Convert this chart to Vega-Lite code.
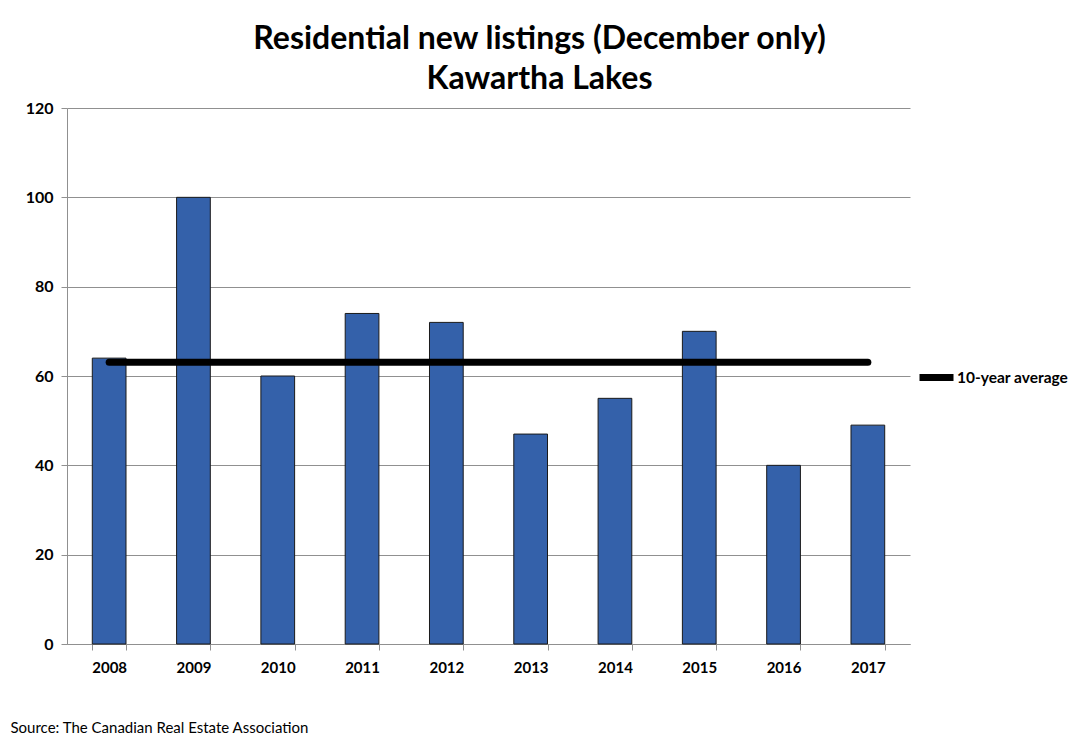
{
  "$schema": "https://vega.github.io/schema/vega-lite/v6.json",
  "width": 843,
  "height": 536,
  "autosize": {"type": "none"},
  "padding": {"left": 67, "top": 108, "right": 169, "bottom": 95},
  "background": "white",
  "config": {
    "font": "Lato",
    "view": {"stroke": null}
  },
  "title": {
    "text": ["Residential new listings (December only)", "Kawartha Lakes"],
    "fontSize": 32,
    "fontWeight": "bold",
    "font": "Lato",
    "color": "black",
    "anchor": "middle",
    "dx": 51,
    "lineHeight": 40,
    "offset": 4
  },
  "data": {
    "values": [
      {"year": "2008", "listings": 64, "avg": 63.1},
      {"year": "2009", "listings": 100, "avg": 63.1},
      {"year": "2010", "listings": 60, "avg": 63.1},
      {"year": "2011", "listings": 74, "avg": 63.1},
      {"year": "2012", "listings": 72, "avg": 63.1},
      {"year": "2013", "listings": 47, "avg": 63.1},
      {"year": "2014", "listings": 55, "avg": 63.1},
      {"year": "2015", "listings": 70, "avg": 63.1},
      {"year": "2016", "listings": 40, "avg": 63.1},
      {"year": "2017", "listings": 49, "avg": 63.1}
    ]
  },
  "encoding": {
    "x": {
      "field": "year",
      "type": "nominal",
      "sort": null,
      "scale": {"paddingInner": 0.6, "paddingOuter": 0.3},
      "axis": {
        "labelAngle": 0,
        "labelFontSize": 15,
        "labelFontWeight": "bold",
        "labelColor": "black",
        "labelPadding": 10,
        "tickBand": "extent",
        "tickColor": "#909090",
        "tickSize": 6,
        "domainColor": "#909090",
        "grid": false,
        "title": "Source: The Canadian Real Estate Association",
        "titleFontSize": 15,
        "titleFontWeight": "normal",
        "titleColor": "black",
        "titleAnchor": "start",
        "titleAlign": "left",
        "titleBaseline": "middle",
        "titleX": -57,
        "titleY": 83
      }
    }
  },
  "layer": [
    {
      "mark": {"type": "bar", "color": "#3461AA", "stroke": "#1a1a1a", "strokeWidth": 1},
      "encoding": {
        "y": {
          "field": "listings",
          "type": "quantitative",
          "scale": {"domain": [0, 120]},
          "axis": {
            "values": [0, 20, 40, 60, 80, 100, 120],
            "labelFontSize": 16,
            "labelFontWeight": "bold",
            "labelColor": "black",
            "labelPadding": 8,
            "tickColor": "#909090",
            "tickSize": 6,
            "domainColor": "#909090",
            "gridColor": "#909090",
            "title": null
          }
        }
      }
    },
    {
      "mark": {"type": "line", "strokeWidth": 7, "strokeCap": "round"},
      "encoding": {
        "y": {"field": "avg", "type": "quantitative"},
        "stroke": {
          "datum": "10-year average",
          "scale": {"range": ["black"]},
          "legend": {
            "orient": "none",
            "legendX": 849,
            "legendY": 249,
            "title": null,
            "symbolType": "stroke",
            "symbolSize": 1156,
            "symbolStrokeWidth": 7,
            "labelFontSize": 15.5,
            "labelFontWeight": "bold",
            "labelColor": "black",
            "labelOffset": 0
          }
        }
      }
    }
  ]
}
